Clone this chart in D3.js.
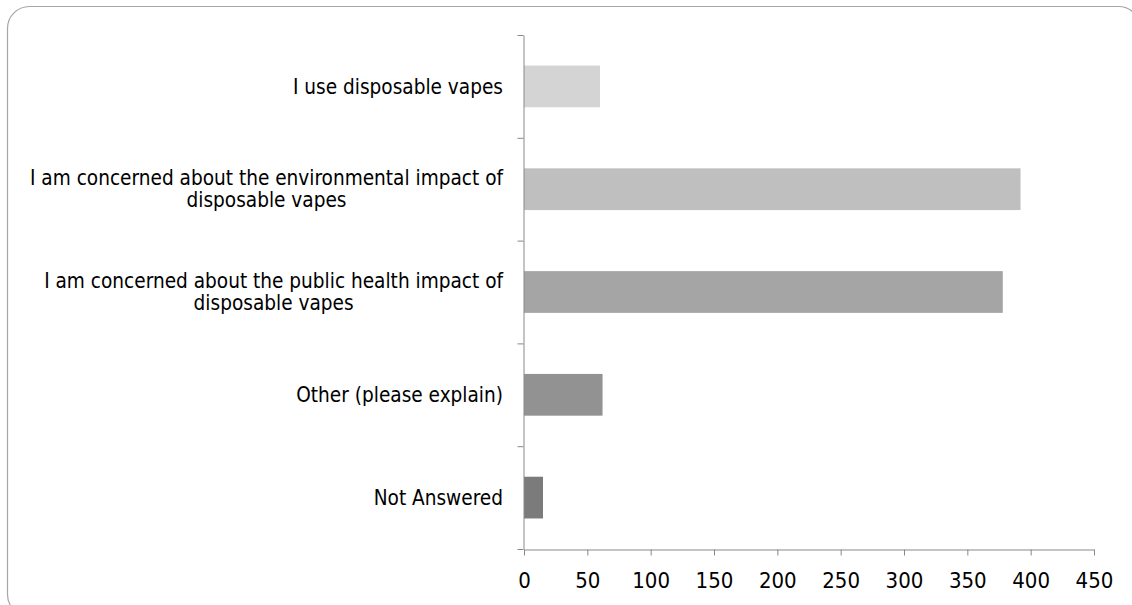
<!DOCTYPE html>
<html>
<head>
<meta charset="utf-8">
<script src="https://cdn.jsdelivr.net/npm/d3@7"></script>
<style>
  body { margin: 0; background: #fff; }
  svg { display: block; }
</style>
</head>
<body>
<div id="chart"></div>
<script>
// Chart data
//
var categories = [
    "I use disposable vapes",
    "I am concerned about the environmental impact of disposable vapes",
    "I am concerned about the public health impact of disposable vapes",
    "Other (please explain)",
    "Not Answered"
];
var labelLines = [
    ["I use disposable vapes"],
    ["I am concerned about the environmental impact of", "disposable vapes"],
    ["I am concerned about the public health impact of", "disposable vapes"],
    ["Other (please explain)"],
    ["Not Answered"]
];
var values     = [60, 392, 378, 62, 15];
var barColors  = ["#d4d4d4", "#bfbfbf", "#a5a5a5", "#929292", "#7b7b7b"];
var xTicks     = [0, 50, 100, 150, 200, 250, 300, 350, 400, 450];

// Layout
//
var svg_width  = 1132;
var svg_height = 605;
var x_box_min  = 524;
var x_box_max  = 1094;
var y_box_min  = 35;
var y_box_max  = 549;
var axisColor  = "#888888";
var fontFamily = "'DejaVu Sans Condensed', 'DejaVu Sans', Verdana, sans-serif";

var svg = d3.select("#chart").append("svg")
    .attr("width", svg_width)
    .attr("height", svg_height);

// Rounded frame
//
svg.append("rect")
    .attr("x", 7.5)
    .attr("y", 6.5)
    .attr("width", 1133)
    .attr("height", 610)
    .attr("rx", 22)
    .attr("ry", 22)
    .attr("fill", "white")
    .attr("stroke", "#a6a6a6")
    .attr("stroke-width", 1.2);

// Scales
//
var x = d3.scaleLinear()
    .domain([0, 450])
    .range([x_box_min, x_box_max]);

var y = d3.scaleBand()
    .domain(categories)
    .range([y_box_min, y_box_max])
    .paddingInner(0.594)
    .paddingOuter(0.297);

// Bars
//
svg.append("g")
    .selectAll("rect")
    .data(categories)
    .join("rect")
    .attr("x", x(0))
    .attr("y", d => y(d))
    .attr("width", (d, i) => x(values[i]) - x(0))
    .attr("height", y.bandwidth())
    .attr("fill", (d, i) => barColors[i]);

// X axis
//
var xAxis = svg.append("g")
    .attr("transform", `translate(0,${y_box_max + 0.5})`)
    .call(d3.axisBottom(x).tickValues(xTicks).tickSize(6).tickSizeOuter(0).tickPadding(17));
xAxis.select(".domain").attr("stroke", axisColor);
xAxis.selectAll(".tick line").attr("stroke", axisColor);
xAxis.selectAll(".tick text")
    .attr("fill", "black")
    .style("font-family", fontFamily)
    .style("font-size", "22px");

// Y axis (category boundaries)
//
var yEdges = d3.scaleLinear().domain([0, categories.length]).range([y_box_min, y_box_max]);
var yAxis = svg.append("g")
    .attr("transform", `translate(${x_box_min - 0.5},0)`)
    .call(d3.axisLeft(yEdges).ticks(categories.length).tickSize(6).tickSizeOuter(0).tickFormat(""));
yAxis.select(".domain").attr("stroke", axisColor);
yAxis.selectAll(".tick line").attr("stroke", axisColor);

// Category labels
//
var labelRight = 503;
var lineHeight = 22;
var labels = svg.append("g")
    .selectAll("text")
    .data(categories)
    .join("text")
    .attr("fill", "black")
    .style("font-family", fontFamily)
    .style("font-size", "20.6px");

labels.each(function(d, i) {
    let t     = d3.select(this);
    let lines = labelLines[i];
    let yc    = y(d) + y.bandwidth() / 2;
    let y0    = yc - (lines.length - 1) * lineHeight / 2;
    lines.forEach((line, j) => {
        t.append("tspan").attr("y", y0 + j * lineHeight).attr("dy", "0.35em").text(line);
    });
    let widths = [];
    t.selectAll("tspan").each(function() { widths.push(this.getComputedTextLength()); });
    let maxW = d3.max(widths);
    t.selectAll("tspan")
        .attr("x", labelRight - maxW / 2)
        .attr("text-anchor", "middle");
});
</script>
</body>
</html>
